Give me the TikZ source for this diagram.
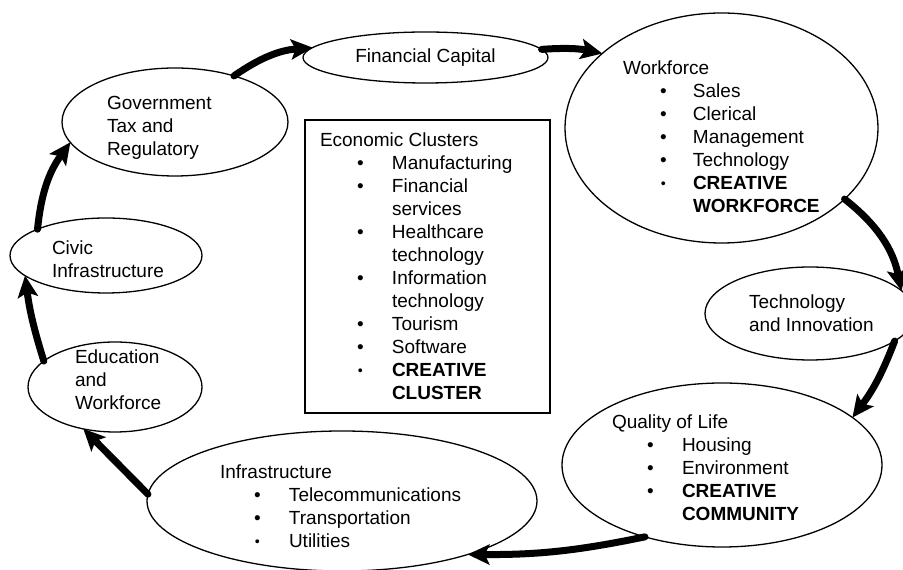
\documentclass[tikz,border=0pt]{standalone}
\usepackage{fontspec}
\setmainfont{Liberation Sans}
\usetikzlibrary{arrows.meta,shapes.geometric}
\newcommand\itm[3]{\hspace*{#1pt}\makebox[#2pt][l]{\textbullet}#3}
\newcommand\sitm[3]{\hspace*{#1pt}\makebox[#2pt][l]{\hspace*{0.8pt}\raisebox{1.6pt}{\scalebox{0.75}{\textbullet}}}#3}
\newcommand\lst[1]{\begin{tabular}[t]{@{}l@{}}#1\end{tabular}}
\begin{document}
\begin{tikzpicture}[x=1pt,y=1pt,
  ell/.style={draw, ellipse, line width=1.3pt, inner sep=0pt, outer sep=0pt},
  txt/.style={anchor=base west, inner sep=0pt, outer sep=0pt, font=\fontsize{19}{23}\selectfont},
  arr/.style={line width=7pt, line cap=round, -{Stealth[length=22pt,width=21pt,inset=5pt,line width=0pt]}}]
\useasboundingbox (0,0) rectangle (903,570);
% ellipses
\node[ell, minimum width=226pt, minimum height=108pt] (gov) at (175,448) {};
\node[ell, minimum width=245pt, minimum height=51pt, font=\fontsize{19}{23}\selectfont] (fin) at (425.5,512.5) {Financial Capital};
\node[ell, minimum width=313pt, minimum height=230pt] (wf) at (721.5,442) {};
\node[ell, minimum width=210pt, minimum height=93pt] (tech) at (810,256.5) {};
\node[ell, minimum width=320pt, minimum height=164pt] (ql) at (722,105) {};
\node[ell, minimum width=390pt, minimum height=140pt] (infra) at (342,69) {};
\node[ell, minimum width=174pt, minimum height=90pt] (edu) at (115,183) {};
\node[ell, minimum width=192pt, minimum height=75pt] (civic) at (106,314.5) {};
\node[draw, rectangle, line width=1.3pt, minimum width=245pt, minimum height=293pt, inner sep=0pt] (box) at (427.5,303.5) {};
% texts
\node[txt] (govt) at (107,460) {\lst{Government\\Tax and\\Regulatory}};
\node[txt] (civict) at (52,315) {\lst{Civic\\Infrastructure}};
\node[txt] (edut) at (75,206) {\lst{Education\\and\\Workforce}};
\node[txt] (techt) at (749,261) {\lst{Technology\\and Innovation}};
\node[txt] (wft) at (623,495) {\lst{Workforce\\
  \itm{37}{33}{Sales}\\
  \itm{37}{33}{Clerical}\\
  \itm{37}{33}{Management}\\
  \itm{37}{33}{Technology}\\
  \sitm{37}{33}{\textbf{CREATIVE}}\\
  \hspace*{70pt}\textbf{WORKFORCE}}};
\node[txt] (econt) at (320,423) {\lst{Economic Clusters\\
  \itm{37}{35}{Manufacturing}\\
  \itm{37}{35}{Financial}\\
  \hspace*{72pt}services\\
  \itm{37}{35}{Healthcare}\\
  \hspace*{72pt}technology\\
  \itm{37}{35}{Information}\\
  \hspace*{72pt}technology\\
  \itm{37}{35}{Tourism}\\
  \itm{37}{35}{Software}\\
  \sitm{37}{35}{\textbf{CREATIVE}}\\
  \hspace*{72pt}\textbf{CLUSTER}}};
\node[txt] (qlt) at (612,141) {\lst{Quality of Life\\
  \itm{35}{35}{Housing}\\
  \itm{35}{35}{Environment}\\
  \itm{35}{35}{\textbf{CREATIVE}}\\
  \hspace*{70pt}\textbf{COMMUNITY}}};
\node[txt] (infrat) at (220,91) {\lst{Infrastructure\\
  \itm{34}{35}{Telecommunications}\\
  \itm{34}{35}{Transportation}\\
  \sitm{34}{35}{Utilities}}};
% arrows
\draw[arr] (gov.38) to[bend left=15] (fin.175);
\draw[arr] (fin.4) to[bend left=8] (wf.148);
\draw[arr] (wf.-30) to[bend left=20] (tech.14);
\draw[arr] (tech.-18) to[bend left=8] (ql.20);
\draw[arr] (ql.223) to[bend left=6] (infra.-23);
\draw[arr] (infra.178) to (edu.233);
\draw[arr] (edu.160) to[bend left=5] (civic.194);
\draw[arr] (civic.159) to[bend left=15] (gov.191);
\end{tikzpicture}
\end{document}
